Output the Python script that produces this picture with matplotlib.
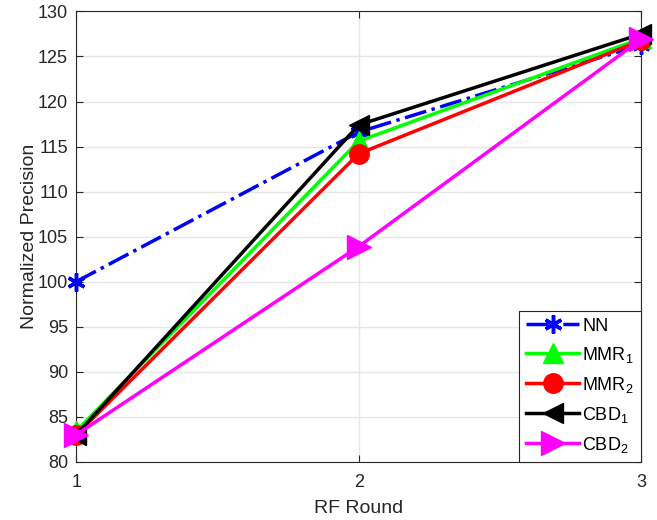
import matplotlib
matplotlib.use("Agg")
import matplotlib.pyplot as plt

plt.rcParams['font.family'] = ['Liberation Sans', 'DejaVu Sans']
plt.rcParams['mathtext.fontset'] = 'custom'
plt.rcParams['mathtext.rm'] = 'Liberation Sans'
plt.rcParams['mathtext.it'] = 'Liberation Sans'

rounds = [1, 2, 3]
nn = [100.0, 116.6, 126.3]
mmr1 = [83.4, 115.6, 127.0]
mmr2 = [83.0, 114.2, 126.8]
cbd1 = [83.0, 117.4, 127.5]
cbd2 = [83.0, 103.9, 126.9]
yticks = [80, 85, 90, 95, 100, 105, 110, 115, 120, 125, 130]

fig = plt.figure(figsize=(6.57, 5.2), dpi=100)
ax = fig.add_axes([0.116, 0.112, 0.86, 0.866])

ax.plot(rounds, nn, color='#0000ff', linestyle='-.', linewidth=2.5, marker=(6, 2, 0),
        markersize=13, markeredgewidth=2.5, label='NN', clip_on=False, zorder=3)
ax.plot(rounds, mmr1, color='#00ff00', linewidth=2.5, marker='^', markersize=15,
        label='MMR$_1$', clip_on=False, zorder=4)
ax.plot(rounds, mmr2, color='#ff0000', linewidth=2.5, marker='o', markersize=14,
        label='MMR$_2$', clip_on=False, zorder=5)
ax.plot(rounds, cbd1, color='#000000', linewidth=2.5, marker='<', markersize=15,
        label='CBD$_1$', clip_on=False, zorder=6)
ax.plot(rounds, cbd2, color='#ff00ff', linewidth=2.5, marker='>', markersize=17,
        label='CBD$_2$', clip_on=False, zorder=7)

ax.set_xlim(1, 3)
ax.set_ylim(80, 130)
ax.set_xticks(rounds)
ax.set_yticks(yticks)
ax.grid(True, color='#e6e6e6', linewidth=1)
ax.set_axisbelow(True)
ax.tick_params(direction='in', labelsize=13, colors='#262626', length=5,
               top=True, right=True)
ax.tick_params(axis='x', pad=9)
ax.tick_params(axis='y', pad=6)
for s in ax.spines.values():
    s.set_color('#262626')
    s.set_linewidth(0.8)
ax.set_xlabel('RF Round', fontsize=14, color='#262626', labelpad=6)
ax.set_ylabel('Normalized Precision', fontsize=14, color='#262626', labelpad=0)

leg = ax.legend(loc='lower right', fontsize=13, fancybox=False, framealpha=1,
                edgecolor='#262626', borderaxespad=0.0, handlelength=2.9,
                labelspacing=0.55, borderpad=0.4, handletextpad=0.2)
leg.get_frame().set_linewidth(0.8)

fig.savefig('out.png', dpi=100)
